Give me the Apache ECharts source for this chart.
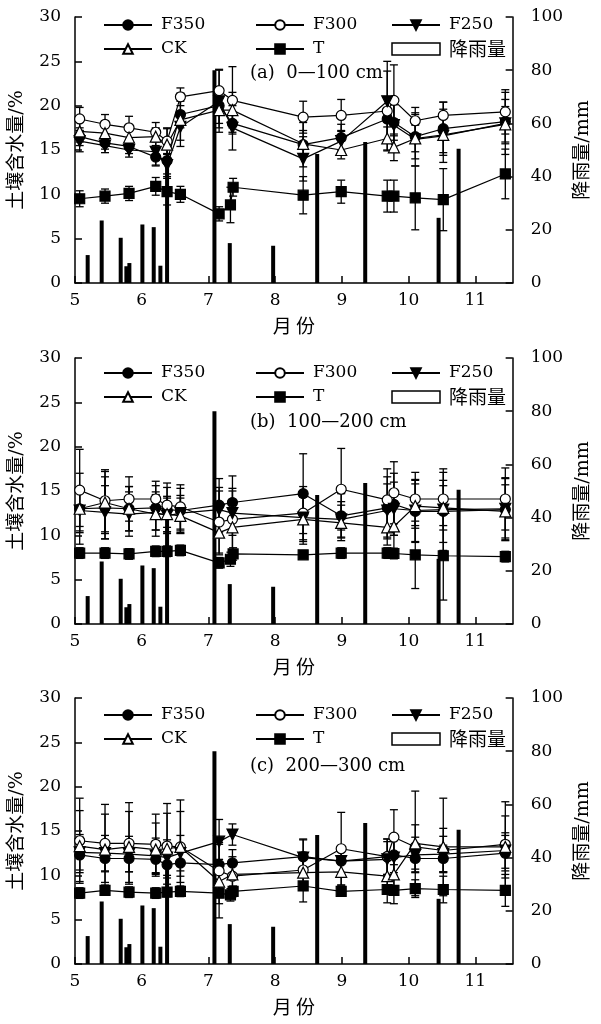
<!DOCTYPE html>
<html>
<head>
<meta charset="utf-8">
<script src="https://cdn.jsdelivr.net/npm/echarts@6/dist/echarts.min.js"></script>
<style>
  html, body { margin: 0; padding: 0; background: #fff; }
  #chart { width: 601px; height: 1024px; }
</style>
</head>
<body>
<div id="chart"></div>
<script>
// Sampling dates (month + fraction of month)
const sampleDates = [5.07, 5.45, 5.81, 6.21, 6.38, 6.58, 7.16, 7.36, 8.42, 8.99, 9.68, 9.78, 10.1, 10.52, 11.45];
// T plot was sampled once more in early July
const sampleDatesT = [5.07, 5.45, 5.81, 6.21, 6.38, 6.58, 7.16, 7.33, 7.37, 8.42, 8.99, 9.68, 9.78, 10.1, 10.52, 11.45];

// Rainfall events (date, mm)
const rainDates = [5.19, 5.40, 5.685, 5.77, 5.815, 6.01, 6.18, 6.28, 6.38, 7.09, 7.32, 7.97, 8.63, 9.35, 10.45, 10.75];
const rainMm    = [10.5, 23.5, 17.0, 6.3, 7.5, 22.0, 21.0, 6.5, 45.0, 80.0, 15.0, 14.0, 48.5, 53.0, 24.5, 50.5];

// Tick labels
const monthTicks = [5, 6, 7, 8, 9, 10, 11];
const panelTitles = ['(a)  0—100 cm', '(b)  100—200 cm', '(c)  200—300 cm'];

// (a) 0-100 cm soil water content (%) and standard deviations
const a_F350 = [16.5, 15.8, 15.4, 14.2, 13.8, 19.0, 20.0, 18.0, 15.6, 16.4, 18.5, 18.1, 16.5, 17.4, 18.2];
const a_F350_sd = [1.0, 0.7, 0.8, 1.0, 1.5, 1.5, 2.0, 1.0, 2.5, 1.5, 2.5, 2.0, 2.5, 3.0, 2.5];
const a_F300 = [18.5, 17.9, 17.5, 17.0, 16.0, 21.0, 21.7, 20.6, 18.7, 18.9, 19.4, 20.6, 18.3, 18.9, 19.3];
const a_F300_sd = [1.3, 1.1, 1.3, 1.1, 1.5, 1.0, 2.4, 3.8, 1.8, 1.8, 4.5, 4.0, 1.5, 1.5, 2.5];
const a_F250 = [16.0, 15.5, 15.0, 14.8, 13.3, 17.6, 20.5, 17.5, 14.0, 16.0, 20.5, 17.8, 16.2, 16.6, 18.0];
const a_F250_sd = [1.2, 0.8, 0.8, 1.5, 1.3, 1.5, 3.5, 2.5, 2.5, 1.2, 4.5, 3.0, 3.0, 3.0, 3.5];
const a_CK = [17.1, 16.9, 16.4, 16.5, 15.6, 18.4, 19.5, 19.5, 15.7, 15.0, 16.3, 15.3, 16.3, 16.7, 17.9];
const a_CK_sd = [1.2, 1.0, 1.0, 1.0, 1.8, 3.0, 2.0, 2.0, 1.5, 1.0, 1.3, 1.5, 1.5, 2.0, 2.0];
const a_T = [9.5, 9.8, 10.1, 10.9, 10.3, 10.0, 7.8, 8.8, 10.8, 9.9, 10.3, 9.8, 9.8, 9.6, 9.4, 12.3];
const a_T_sd = [0.9, 0.8, 0.8, 1.0, 1.5, 0.9, 0.8, 2.0, 1.0, 2.1, 1.3, 1.8, 1.8, 3.6, 3.5, 2.8];

// (b) 100-200 cm
const b_F350 = [13.0, 13.1, 13.0, 13.1, 12.9, 12.8, 13.4, 13.7, 14.7, 12.2, 13.1, 13.5, 12.7, 12.7, 12.9];
const b_F350_sd = [4.0, 3.5, 2.5, 2.5, 2.5, 2.5, 3.0, 3.0, 4.5, 2.5, 3.5, 3.5, 3.5, 3.5, 3.5];
const b_F300 = [15.1, 13.9, 14.1, 14.1, 13.4, 13.2, 11.5, 11.8, 12.5, 15.2, 14.0, 14.8, 14.1, 14.1, 14.1];
const b_F300_sd = [4.6, 3.5, 2.5, 2.0, 2.5, 2.5, 3.5, 3.5, 3.0, 4.6, 3.5, 3.5, 3.0, 3.0, 3.5];
const b_F250 = [12.8, 12.6, 12.4, 12.6, 12.2, 12.5, 12.9, 12.5, 12.0, 11.8, 12.8, 13.0, 12.8, 12.9, 13.0];
const b_F250_sd = [2.5, 3.0, 2.5, 2.0, 2.0, 2.0, 2.5, 2.5, 3.0, 2.0, 3.0, 3.0, 3.5, 4.6, 3.5];
const b_CK = [13.0, 13.7, 13.0, 12.4, 12.4, 12.2, 10.3, 10.9, 11.8, 11.4, 10.9, 11.0, 13.3, 13.1, 12.7];
const b_CK_sd = [2.0, 3.5, 2.5, 2.5, 2.0, 2.0, 2.5, 2.5, 2.5, 2.0, 2.0, 2.5, 2.5, 2.5, 3.0];
const b_T = [8.0, 8.0, 7.9, 8.2, 8.2, 8.3, 6.9, 7.3, 7.9, 7.8, 8.0, 8.0, 7.95, 7.8, 7.7, 7.6];
const b_T_sd = [0.6, 0.6, 0.6, 0.6, 0.6, 0.6, 0.6, 0.8, 0.7, 0.4, 0.6, 0.6, 0.6, 3.8, 5.0, 0.6];

// (c) 200-300 cm
const c_F350 = [12.3, 11.9, 11.9, 11.8, 11.2, 11.4, 11.2, 11.4, 12.1, 11.6, 12.1, 12.3, 11.9, 11.9, 12.5];
const c_F350_sd = [2.0, 1.5, 1.5, 1.5, 1.5, 1.5, 2.5, 1.5, 2.0, 1.5, 2.0, 2.0, 1.5, 1.5, 2.0];
const c_F300 = [13.9, 13.6, 13.6, 13.5, 13.3, 13.2, 10.5, 9.9, 10.6, 13.0, 12.1, 14.3, 13.2, 12.8, 13.5];
const c_F300_sd = [4.8, 4.4, 4.6, 3.4, 4.8, 5.3, 3.0, 1.5, 2.0, 4.1, 2.0, 3.1, 2.5, 2.5, 4.8];
const c_F250 = [12.6, 12.5, 12.4, 12.2, 12.0, 12.5, 13.8, 14.6, 12.0, 11.6, 11.8, 12.0, 12.3, 12.4, 12.8];
const c_F250_sd = [2.0, 2.0, 2.0, 2.0, 2.0, 2.0, 2.5, 1.2, 2.0, 1.5, 2.0, 2.0, 2.0, 2.0, 2.0];
const c_CK = [13.3, 12.9, 13.2, 12.9, 13.0, 13.2, 9.3, 10.1, 10.3, 10.4, 9.9, 10.1, 13.6, 13.2, 13.2];
const c_CK_sd = [4.0, 4.0, 4.0, 3.0, 4.0, 4.0, 2.5, 2.0, 2.0, 1.5, 2.0, 2.0, 5.9, 5.5, 3.5];
const c_T = [8.0, 8.3, 8.1, 8.0, 8.1, 8.2, 8.0, 7.8, 8.2, 8.8, 8.2, 8.4, 8.3, 8.5, 8.4, 8.3];
const c_T_sd = [0.6, 0.5, 0.6, 0.6, 0.5, 0.6, 2.8, 0.7, 0.6, 1.8, 0.5, 1.5, 1.5, 1.0, 1.5, 1.8];

const SERIF = '"DejaVu Serif", "Liberation Serif", serif';
const CJK = '"Noto Sans CJK SC", "Noto Sans", sans-serif';
const MIX = '"DejaVu Serif", "Noto Sans CJK SC", serif';

// Panel geometry
const gridTops = [17, 358, 698];
const gridH = 266;
const legendTops = [10, 358, 700];
const titleYs = [75, 424, 768];

const panels = [
  { F350: [a_F350, a_F350_sd], F300: [a_F300, a_F300_sd], F250: [a_F250, a_F250_sd], CK: [a_CK, a_CK_sd], T: [a_T, a_T_sd] },
  { F350: [b_F350, b_F350_sd], F300: [b_F300, b_F300_sd], F250: [b_F250, b_F250_sd], CK: [b_CK, b_CK_sd], T: [b_T, b_T_sd] },
  { F350: [c_F350, c_F350_sd], F300: [c_F300, c_F300_sd], F250: [c_F250, c_F250_sd], CK: [c_CK, c_CK_sd], T: [c_T, c_T_sd] }
];

const markerStyles = {
  F350: { symbol: 'circle',   size: 10, fill: '#000', rotate: 0 },
  F300: { symbol: 'circle',   size: 10, fill: '#fff', rotate: 0 },
  F250: { symbol: 'triangle', size: 11, fill: '#000', rotate: 180 },
  CK:   { symbol: 'triangle', size: 11, fill: '#fff', rotate: 0 },
  T:    { symbol: 'rect',     size: 10, fill: '#000', rotate: 0 }
};

// Vertical error bar with caps
function renderErr(params, api) {
  const x = api.value(0);
  const lo = api.coord([x, api.value(1)]);
  const hi = api.coord([x, api.value(2)]);
  const w = 4;
  const st = { stroke: '#000', lineWidth: 1.3 };
  return {
    type: 'group',
    children: [
      { type: 'line', shape: { x1: lo[0], y1: lo[1], x2: hi[0], y2: hi[1] }, style: st },
      { type: 'line', shape: { x1: lo[0] - w, y1: lo[1], x2: lo[0] + w, y2: lo[1] }, style: st },
      { type: 'line', shape: { x1: hi[0] - w, y1: hi[1], x2: hi[0] + w, y2: hi[1] }, style: st }
    ]
  };
}

const grids = [], xAxes = [], yAxes = [], series = [], legends = [], graphics = [];

gridTops.forEach((top, g) => {
  grids.push({ left: 74, right: 70, top: top, height: gridH });

  xAxes.push({
    gridIndex: g, type: 'value', min: 5, max: 11.56, interval: 1,
    axisLine: { show: true, onZero: false, lineStyle: { color: '#000', width: 1.5 } },
    axisTick: { show: true, inside: true, length: 7, lineStyle: { color: '#000', width: 1.5 } },
    axisLabel: {
      color: '#000', fontSize: 17, fontFamily: SERIF, margin: 9, showMaxLabel: false,
      formatter: v => (monthTicks.indexOf(v) >= 0 ? String(v) : '')
    },
    splitLine: { show: false },
    name: '月 份', nameLocation: 'middle', nameGap: 33,
    nameTextStyle: { color: '#000', fontSize: 19, fontFamily: CJK }
  });

  yAxes.push({
    gridIndex: g, type: 'value', position: 'left', min: 0, max: 30, interval: 5,
    axisLine: { show: true, lineStyle: { color: '#000', width: 1.5 } },
    axisTick: { show: true, inside: true, length: 7, lineStyle: { color: '#000', width: 1.5 } },
    axisLabel: { color: '#000', fontSize: 17, fontFamily: SERIF, margin: 14 },
    splitLine: { show: false },
    name: '土壤含水量/%', nameLocation: 'middle', nameGap: 48, nameRotate: 90,
    nameTextStyle: { color: '#000', fontSize: 19, fontFamily: MIX }
  });
  yAxes.push({
    gridIndex: g, type: 'value', position: 'right', min: 0, max: 100, interval: 20,
    axisLine: { show: true, lineStyle: { color: '#000', width: 1.5 } },
    axisTick: { show: true, inside: true, length: 7, lineStyle: { color: '#000', width: 1.5 } },
    axisLabel: { color: '#000', fontSize: 17, fontFamily: SERIF, margin: 18 },
    splitLine: { show: false },
    name: '降雨量/mm', nameLocation: 'middle', nameGap: 49, nameRotate: 90,
    nameTextStyle: { color: '#000', fontSize: 19, fontFamily: MIX }
  });

  // Rainfall bars on the right axis
  series.push({
    name: '降雨量', type: 'bar', xAxisIndex: g, yAxisIndex: g * 2 + 1,
    data: rainDates.map((d, i) => [d, rainMm[i]]),
    barWidth: 4, itemStyle: { color: '#000' }, z: 1, silent: true
  });

  const p = panels[g];
  ['F350', 'F300', 'F250', 'CK', 'T'].forEach(key => {
    const xs = key === 'T' ? sampleDatesT : sampleDates;
    const ys = p[key][0], sd = p[key][1];
    const m = markerStyles[key];
    series.push({
      type: 'custom', xAxisIndex: g, yAxisIndex: g * 2,
      data: xs.map((x, i) => [x, ys[i] - sd[i], ys[i] + sd[i]]),
      encode: { x: 0, y: [1, 2] },
      renderItem: renderErr, z: 3, silent: true
    });
    series.push({
      name: key, type: 'line', xAxisIndex: g, yAxisIndex: g * 2,
      data: xs.map((x, i) => [x, ys[i]]),
      symbol: m.symbol, symbolSize: m.size, symbolRotate: m.rotate, showAllSymbol: true,
      lineStyle: { color: '#000', width: 1.2 },
      itemStyle: { color: m.fill, borderColor: '#000', borderWidth: 1.2 },
      z: 5, silent: true
    });
  });

  const legendBase = {
    orient: 'vertical', top: legendTops[g], itemWidth: 48, itemHeight: 12, itemGap: 4,
    selectedMode: false,
    textStyle: { color: '#000', fontSize: 17, fontFamily: SERIF, lineHeight: 20, padding: [0, 0, 0, 4] }
  };
  legends.push(Object.assign({}, legendBase, { left: 98, data: ['F350', 'CK'] }));
  legends.push(Object.assign({}, legendBase, { left: 250, data: ['F300', 'T'] }));
  legends.push(Object.assign({}, legendBase, {
    left: 386,
    data: ['F250', {
      name: '降雨量', icon: 'rect',
      itemStyle: { color: '#fff', borderColor: '#000', borderWidth: 1.5 },
      textStyle: { fontFamily: CJK, fontSize: 19 }
    }]
  }));

  graphics.push({
    type: 'text', left: 250, top: titleYs[g] - 11,
    style: { text: panelTitles[g], font: '18px ' + SERIF, fill: '#000' }
  });
});

const chart = echarts.init(document.getElementById('chart'), null, { renderer: 'canvas' });
chart.setOption({
  animation: false,
  backgroundColor: '#fff',
  grid: grids,
  xAxis: xAxes,
  yAxis: yAxes,
  legend: legends,
  graphic: graphics,
  series: series
});
</script>
</body>
</html>
